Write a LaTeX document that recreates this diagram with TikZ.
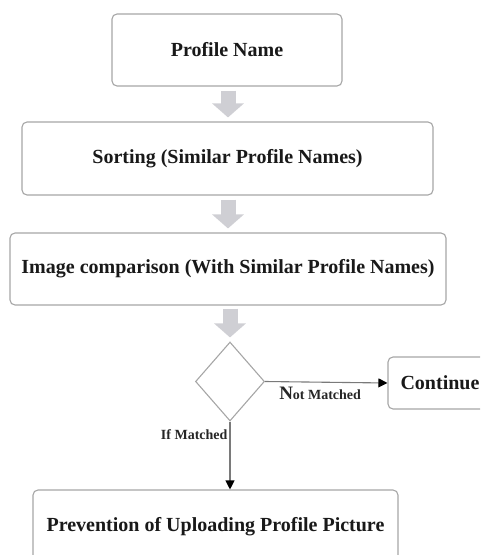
\documentclass[tikz,border=0pt]{standalone}
\usepackage{fontspec}
\setmainfont{Liberation Serif}
\usetikzlibrary{shapes.geometric,arrows.meta}
\definecolor{boxline}{HTML}{A6A6A6}
\definecolor{blockarrow}{HTML}{CFCFD4}
\definecolor{conn}{HTML}{7A7A7A}
\tikzset{
  stepbox/.style={draw=boxline, line width=1.1pt, rounded corners=5pt, fill=white,
    inner sep=0pt, font=\fontsize{20}{24}\selectfont\bfseries, text=black!90},
  decision/.style={draw=boxline, line width=1.1pt, diamond, inner sep=0pt,
    minimum width=69pt, minimum height=79pt},
  blockarr/.style={draw=blockarrow, line width=15pt,
    -{Triangle[width=31pt,length=14pt,color=blockarrow]}},
  connarr/.style={draw=conn, line width=1.1pt, -{Triangle[width=9pt,length=9pt,color=black]}},
  lbl/.style={font=\fontsize{14}{16}\selectfont\bfseries, text=black!85, inner sep=2pt}
}
\begin{document}
\begin{tikzpicture}[x=1pt,y=-1pt]
\useasboundingbox (0,0) rectangle (480,555);
\clip (0,0) rectangle (480,555);
\node[stepbox, minimum width=230pt, minimum height=72pt] (b1) at (227,50) {Profile Name};
\node[stepbox, minimum width=411pt, minimum height=73pt] (b2) at (227.5,158.5) {Sorting (Similar Profile Names)};
\node[stepbox, minimum width=436pt, minimum height=72pt] (b3) at (228,269) {Image comparison (With Similar Profile Names)};
\node[decision] (d) at (230,381.5) {};
\node[stepbox, minimum width=104pt, minimum height=52pt] (cont) at (440,383) {Continue};
\node[stepbox, minimum width=365pt, minimum height=74pt] (prev) at (215.5,527) {Prevention of Uploading Profile Picture};

\draw[blockarr, shorten <=4pt, shorten >=4pt] (b1.south -| 228,0) -- (b2.north -| 228,0);
\draw[blockarr, shorten <=4pt, shorten >=4pt] (b2.south -| 228,0) -- (b3.north -| 228,0);
\draw[blockarr, shorten <=3pt, shorten >=4pt] (b3.south -| d.north) -- (d.north);

\draw[connarr] (d.east) -- node[pos=0.45, below, yshift=-2pt, lbl]
  {{\fontsize{19}{20}\selectfont N}ot Matched} (cont.west);
\draw[connarr] (d.south) -- node[pos=0.2, left, lbl] {If Matched} (prev.north -| d.south);
\end{tikzpicture}
\end{document}
